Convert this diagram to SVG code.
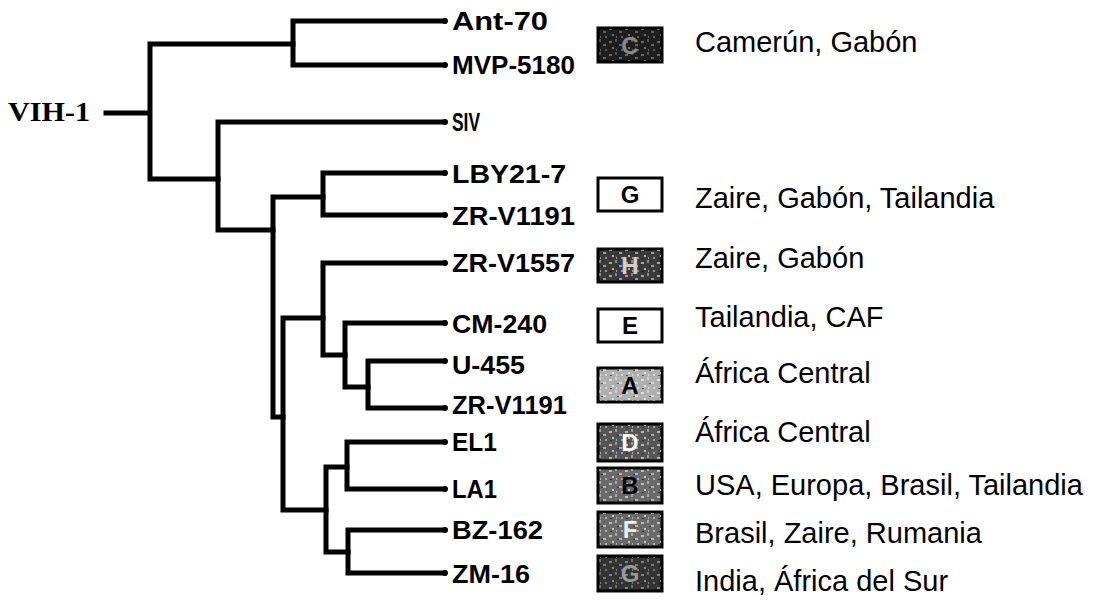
<svg xmlns="http://www.w3.org/2000/svg" width="1101" height="601" viewBox="0 0 1101 601">
<style>
.edge{fill:none;stroke:#000;stroke-width:5;stroke-linejoin:miter;stroke-linecap:square}
.lbl{font-family:"Liberation Sans",Arial,sans-serif;font-weight:bold;font-size:25px;fill:#000}
.reg{font-family:"Liberation Sans",Arial,sans-serif;font-size:29px;fill:#000}
.box{stroke:#000;stroke-width:3}
.bl{font-family:"Liberation Sans",Arial,sans-serif;font-weight:bold;font-size:24px;text-anchor:middle}
.root{font-family:"Liberation Serif","Times New Roman",serif;font-weight:bold;font-size:27px;fill:#000}
</style>
<defs>
<pattern id="speck" width="16" height="13" patternUnits="userSpaceOnUse">
<rect x="1" y="2" width="3" height="2" fill="#fff" opacity="0.55"/>
<rect x="7" y="0" width="2" height="3" fill="#fff" opacity="0.4"/>
<rect x="11" y="5" width="3" height="2" fill="#fff" opacity="0.5"/>
<rect x="4" y="8" width="2" height="2" fill="#fff" opacity="0.6"/>
<rect x="13" y="10" width="2" height="2" fill="#fff" opacity="0.45"/>
<rect x="8" y="10" width="1" height="2" fill="#fff" opacity="0.5"/>
<rect x="2" y="11" width="2" height="1" fill="#000" opacity="0.5"/>
<rect x="9" y="6" width="2" height="1" fill="#000" opacity="0.5"/>
</pattern>
</defs>
<rect width="1101" height="601" fill="#fff"/>

<g id="connectors">
<path class="edge" d="M106,113 H150 M150,44 V179 M150,44 H293 M150,179 H218"/>
<path class="edge" d="M293,21 V65 M293,21 H443 M293,65 H443"/>
<path class="edge" d="M218,122 V230 M218,122 H443 M218,230 H273"/>
<path class="edge" d="M273,197 V417 H283 M273,197 H323"/>
<path class="edge" d="M323,173 V215 M323,173 H443 M323,215 H443"/>
<path class="edge" d="M283,318 V510 M283,318 H323 M283,510 H326"/>
<path class="edge" d="M323,263 V355 H345 M323,263 H443"/>
<path class="edge" d="M345,323 V387 H368 M345,323 H443"/>
<path class="edge" d="M368,361 V408 M368,361 H443 M368,408 H443"/>
<path class="edge" d="M326,467 V552 M326,467 H347 M326,552 H348"/>
<path class="edge" d="M347,442 V489 M347,442 H443 M347,489 H443"/>
<path class="edge" d="M348,530 V573 M348,530 H443 M348,573 H443"/>
<g fill="#000">
<circle cx="445" cy="21" r="3"/><circle cx="445" cy="65" r="3"/><circle cx="445" cy="122" r="3"/>
<circle cx="445" cy="173" r="3"/><circle cx="445" cy="215" r="3"/><circle cx="445" cy="263" r="3"/>
<circle cx="445" cy="323" r="3"/><circle cx="445" cy="361" r="3"/><circle cx="445" cy="408" r="3"/>
<circle cx="445" cy="442" r="3"/><circle cx="445" cy="489" r="3"/><circle cx="445" cy="530" r="3"/>
<circle cx="445" cy="573" r="3"/>
</g>
</g>

<g id="root"><text class="root" x="8" y="121" textLength="82" lengthAdjust="spacingAndGlyphs">VIH-1</text></g>

<g id="leaf-ant70"><text class="lbl" x="452" y="30" textLength="96" lengthAdjust="spacingAndGlyphs">Ant-70</text></g>
<g id="leaf-mvp5180"><text class="lbl" x="452" y="74" textLength="123" lengthAdjust="spacingAndGlyphs">MVP-5180</text></g>
<g id="leaf-siv"><text class="lbl" x="452" y="131" textLength="28" lengthAdjust="spacingAndGlyphs">SIV</text></g>
<g id="leaf-lby"><text class="lbl" x="452" y="183" textLength="114" lengthAdjust="spacingAndGlyphs">LBY21-7</text></g>
<g id="leaf-zrv1191a"><text class="lbl" x="452" y="225" textLength="123" lengthAdjust="spacingAndGlyphs">ZR-V1191</text></g>
<g id="leaf-zrv1557"><text class="lbl" x="452" y="272" textLength="123" lengthAdjust="spacingAndGlyphs">ZR-V1557</text></g>
<g id="leaf-cm240"><text class="lbl" x="452" y="333" textLength="95" lengthAdjust="spacingAndGlyphs">CM-240</text></g>
<g id="leaf-u455"><text class="lbl" x="452" y="374" textLength="73" lengthAdjust="spacingAndGlyphs">U-455</text></g>
<g id="leaf-zrv1191b"><text class="lbl" x="452" y="414" textLength="115" lengthAdjust="spacingAndGlyphs">ZR-V1191</text></g>
<g id="leaf-el1"><text class="lbl" x="452" y="451" textLength="45" lengthAdjust="spacingAndGlyphs">EL1</text></g>
<g id="leaf-la1"><text class="lbl" x="452" y="498" textLength="45" lengthAdjust="spacingAndGlyphs">LA1</text></g>
<g id="leaf-bz162"><text class="lbl" x="452" y="539" textLength="91" lengthAdjust="spacingAndGlyphs">BZ-162</text></g>
<g id="leaf-zm16"><text class="lbl" x="452" y="583" textLength="78" lengthAdjust="spacingAndGlyphs">ZM-16</text></g>

<g id="subtype-C">
<rect class="box" x="598" y="28" width="64" height="34" fill="#1e1e1e"/>
<rect x="599" y="29" width="62" height="32" fill="url(#speck)" opacity="0.6"/>
<text class="bl" x="630" y="54" fill="#8a8a8a">C</text>
<text class="reg" x="695" y="52">Camerún, Gabón</text>
</g>
<g id="subtype-G">
<rect class="box" x="598" y="178" width="64" height="33" fill="#fff"/>
<text class="bl" x="630" y="203" fill="#000">G</text>
<text class="reg" x="695" y="208">Zaire, Gabón, Tailandia</text>
</g>
<g id="subtype-H">
<rect class="box" x="598" y="249" width="64" height="33" fill="#3a3a3a"/>
<rect x="599" y="250" width="62" height="31" fill="url(#speck)"/>
<text class="bl" x="630" y="274" fill="#cfcfcf">H</text>
<text class="reg" x="695" y="268">Zaire, Gabón</text>
</g>
<g id="subtype-E">
<rect class="box" x="598" y="309" width="64" height="33" fill="#fff"/>
<text class="bl" x="630" y="334" fill="#000">E</text>
<text class="reg" x="695" y="327">Tailandia, CAF</text>
</g>
<g id="subtype-A">
<rect class="box" x="598" y="368" width="64" height="34" fill="#b0b0b0"/>
<rect x="599" y="369" width="62" height="32" fill="url(#speck)"/>
<text class="bl" x="630" y="394" fill="#000">A</text>
<text class="reg" x="695" y="383">África Central</text>
</g>
<g id="subtype-D">
<rect class="box" x="598" y="424" width="64" height="37" fill="#555"/>
<rect x="599" y="425" width="62" height="35" fill="url(#speck)"/>
<text class="bl" x="630" y="451" fill="#fff">D</text>
<text class="reg" x="695" y="442">África Central</text>
</g>
<g id="subtype-B">
<rect class="box" x="598" y="468" width="64" height="35" fill="#6a6a6a"/>
<rect x="599" y="469" width="62" height="33" fill="url(#speck)"/>
<text class="bl" x="630" y="494" fill="#000">B</text>
<text class="reg" x="695" y="495">USA, Europa, Brasil, Tailandia</text>
</g>
<g id="subtype-F">
<rect class="box" x="598" y="512" width="64" height="35" fill="#6a6a6a"/>
<rect x="599" y="513" width="62" height="33" fill="url(#speck)"/>
<text class="bl" x="630" y="538" fill="#eee">F</text>
<text class="reg" x="695" y="543">Brasil, Zaire, Rumania</text>
</g>
<g id="subtype-G2">
<rect class="box" x="598" y="556" width="64" height="35" fill="#333"/>
<rect x="599" y="557" width="62" height="33" fill="url(#speck)" opacity="0.7"/>
<text class="bl" x="630" y="582" fill="#999">G</text>
<text class="reg" x="695" y="591">India, África del Sur</text>
</g>
</svg>
